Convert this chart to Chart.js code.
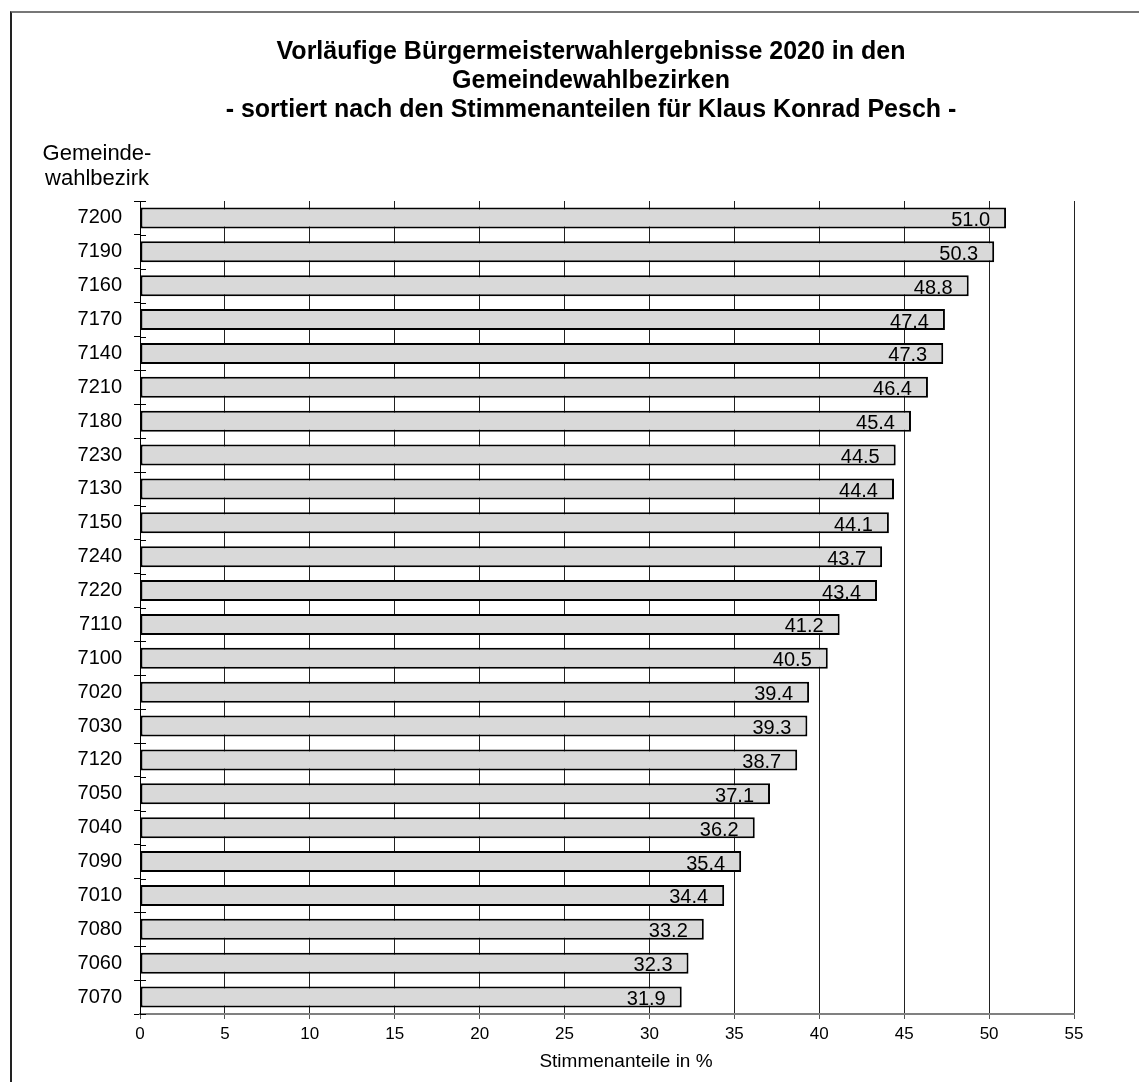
<!DOCTYPE html>
<html lang="de">

<head>
  <meta charset="utf-8" />
  <title>Bürgermeisterwahl 2020</title>
  <script src="https://cdn.jsdelivr.net/npm/chart.js@4.4.1/dist/chart.umd.min.js"></script>
  <style>
    body { margin: 0; background: #fff; overflow: hidden; }
    #frame {
      position: absolute; left: 10px; top: 11px; right: 0; bottom: 0;
      border-left: 2px solid #222; border-top: 2px solid #777;
    }
    #chart { position: absolute; left: 0; top: 0; }
  </style>
</head>

<body>
  <div id="frame"></div>
  <canvas id="chart" width="1139" height="1082"></canvas>
  <script>
    // Gemeindewahlbezirke, sortiert nach Stimmenanteil
    const bezirke = ['7200', '7190', '7160', '7170', '7140', '7210', '7180', '7230', '7130', '7150', '7240', '7220',
      '7110', '7100', '7020', '7030', '7120', '7050', '7040', '7090', '7010', '7080', '7060', '7070'];
    const anteile = [51.0, 50.3, 48.8, 47.4, 47.3, 46.4, 45.4, 44.5, 44.4, 44.1, 43.7, 43.4,
      41.2, 40.5, 39.4, 39.3, 38.7, 37.1, 36.2, 35.4, 34.4, 33.2, 32.3, 31.9];

    const titleLines = ['Vorläufige Bürgermeisterwahlergebnisse 2020 in den', 'Gemeindewahlbezirken',
      '- sortiert nach den Stimmenanteilen für Klaus Konrad Pesch -'];
    const yTitleLines = ['Gemeinde-', 'wahlbezirk'];
    const xTitle = 'Stimmenanteile in %';

    const FONT = '"Liberation Sans", Arial, sans-serif';

    // titles + value labels, drawn by hand since there is no datalabels plugin
    const textPlugin = {
      id: 'texts',
      afterDatasetsDraw(chart) {
        const ctx = chart.ctx;
        const meta = chart.getDatasetMeta(0);
        ctx.save();
        ctx.fillStyle = '#000';
        ctx.font = '20px ' + FONT;
        ctx.textAlign = 'right';
        ctx.textBaseline = 'alphabetic';
        meta.data.forEach((bar, i) => {
          ctx.fillText(anteile[i].toFixed(1), bar.x - 16, bar.y + 8);
        });
        // little tick stubs inside the plot on the category boundaries
        const area = chart.chartArea;
        const step = (area.bottom - area.top) / bezirke.length;
        ctx.strokeStyle = '#000';
        ctx.lineWidth = 1;
        for (let i = 0; i <= bezirke.length; i++) {
          const y = Math.round(area.top + i * step) + 0.5;
          ctx.beginPath();
          ctx.moveTo(area.left, y);
          ctx.lineTo(area.left + 6, y);
          ctx.stroke();
        }
        ctx.restore();
      },
      afterDraw(chart) {
        const ctx = chart.ctx;
        const area = chart.chartArea;
        ctx.save();
        ctx.fillStyle = '#000';
        ctx.textAlign = 'center';
        ctx.textBaseline = 'alphabetic';
        ctx.font = 'bold 25px ' + FONT;
        titleLines.forEach((t, i) => ctx.fillText(t, 591, 59 + i * 29));
        ctx.font = '22px ' + FONT;
        yTitleLines.forEach((t, i) => ctx.fillText(t, 97, 160 + i * 25));
        ctx.font = '19px ' + FONT;
        ctx.fillText(xTitle, (area.left + area.right) / 2 + 19, 1067);
        ctx.restore();
      }
    };

    const data = {
      labels: bezirke,
      datasets: [{
        data: anteile,
        backgroundColor: '#d9d9d9',
        borderColor: '#000',
        borderWidth: 2,
        borderSkipped: false,
        barPercentage: 0.62,
        categoryPercentage: 1
      }]
    };

    const config = {
      type: 'bar',
      data: data,
      plugins: [textPlugin],
      options: {
        indexAxis: 'y',
        responsive: false,
        animation: false,
        devicePixelRatio: 1,
        layout: { padding: { top: 201, right: 65, bottom: 0, left: 0 } },
        plugins: {
          legend: { display: false },
          tooltip: { enabled: false }
        },
        scales: {
          x: {
            min: 0,
            max: 55,
            ticks: { stepSize: 5, color: '#000', font: { family: FONT, size: 17 }, padding: 5 },
            grid: { color: '#222', lineWidth: 1, tickLength: 5, tickColor: '#555' },
            border: { color: '#808080', width: 2 },
            afterFit(scale) { scale.height = 68; }
          },
          y: {
            ticks: { color: '#000', font: { family: FONT, size: 20 }, padding: 12 },
            grid: { offset: true, drawOnChartArea: false, tickLength: 6, color: '#000' },
            border: { color: '#000', width: 1 },
            afterFit(scale) { scale.width = 140; }
          }
        }
      }
    };

    new Chart(document.getElementById('chart'), config);
  </script>
</body>

</html>
